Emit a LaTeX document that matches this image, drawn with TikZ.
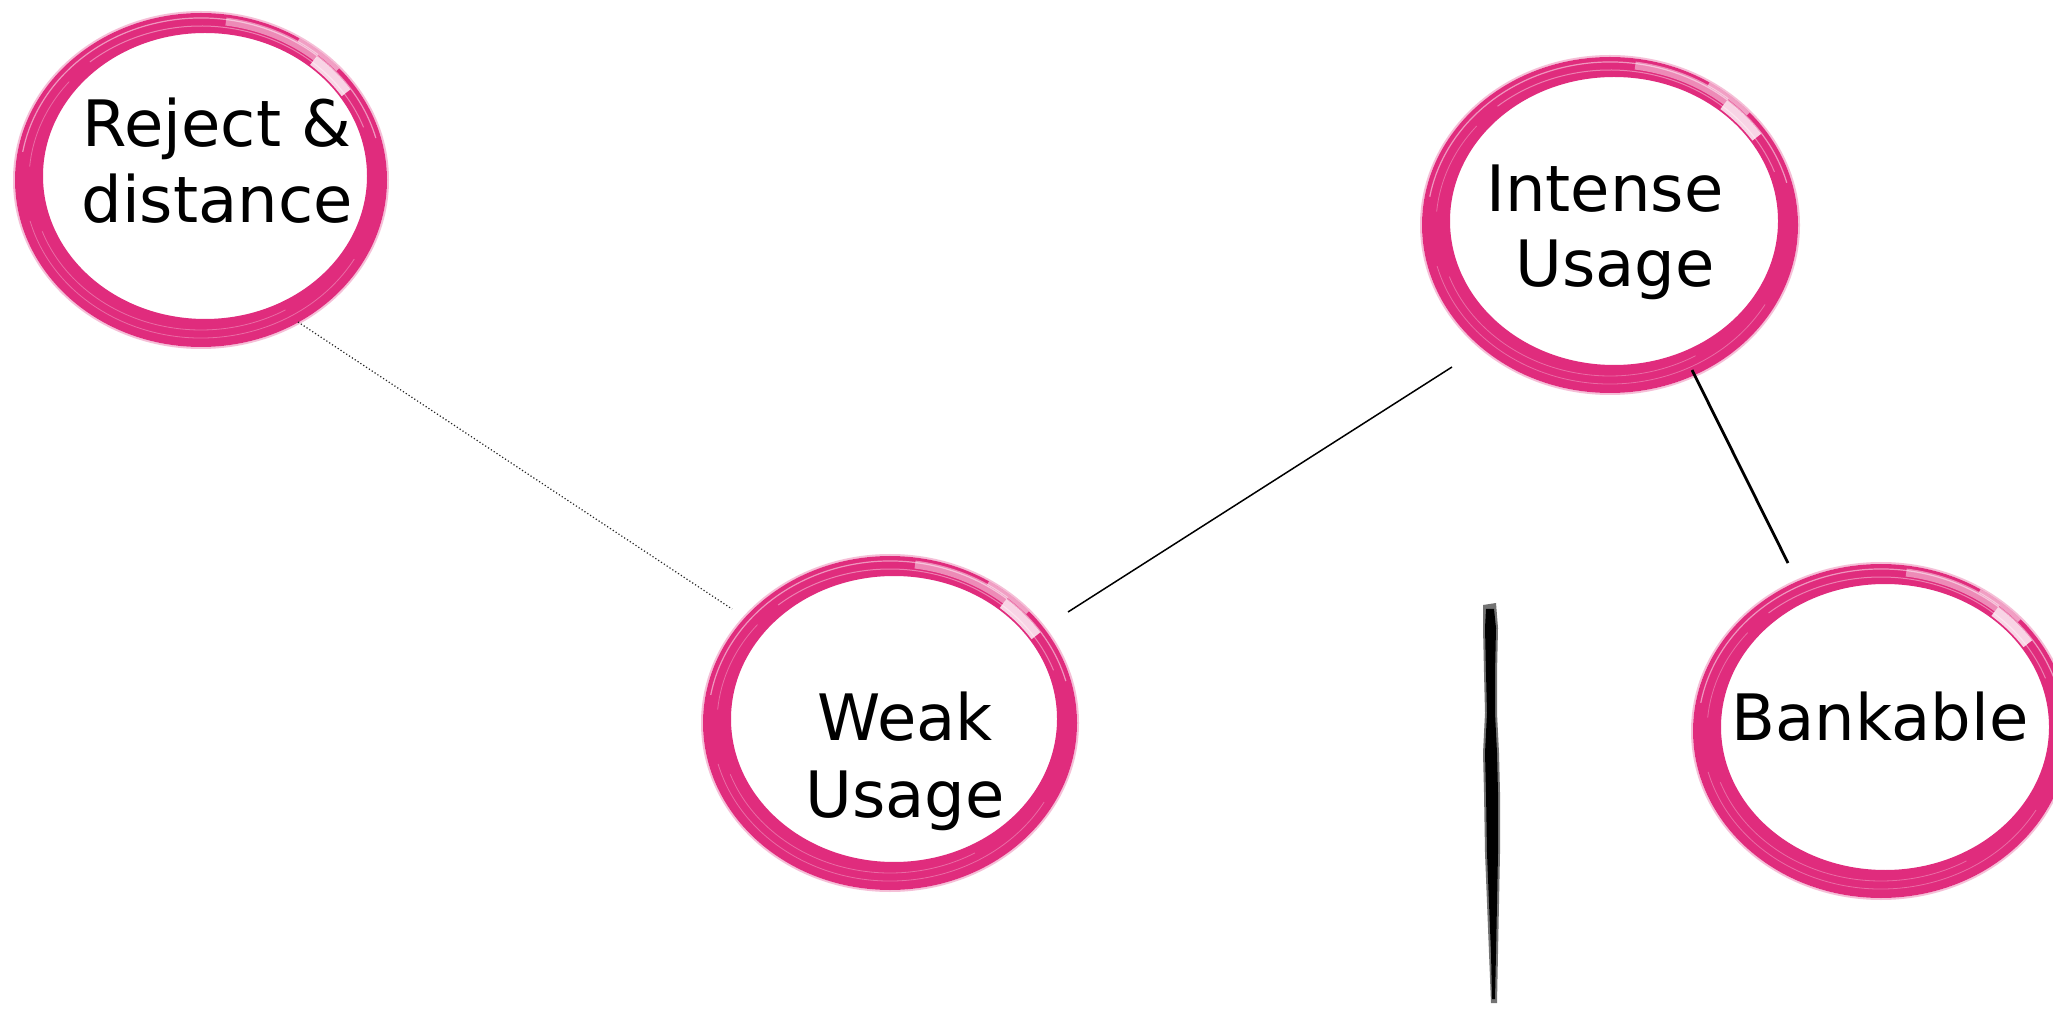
\documentclass[tikz,border=0pt]{standalone}
\usepackage{fontspec}
\setmainfont{DejaVu Sans}
\usetikzlibrary{calc,shapes.geometric}
\definecolor{ringpink}{RGB}{224,44,125}

% one elliptic streak of a brush ring: x radius, y radius, inward offset, start, end, style
\newcommand\brusharc[6]{%
  \draw[#6] ([shift={(#4:{#1-#3} and {#2-#3})}]0,0)
    arc[start angle=#4, end angle=#5, x radius={#1-#3}, y radius={#2-#3}];}

% hand-painted ring round a node: node name, x radius, y radius
\newcommand\brushring[3]{%
  \begin{scope}[shift={(#1.center)}]
    \fill[ringpink,even odd rule]
      (0,0) ellipse [x radius=#2, y radius=#3]
      (4,4) ellipse [x radius={#2-24}, y radius={#3-24}];
    \brusharc{#2}{#3}{-1}{0}{360}{ringpink,opacity=0.3,line width=2pt}
    \brusharc{#2}{#3}{5}{15}{170}{white,opacity=0.5,line width=1.2pt}
    \brusharc{#2}{#3}{13}{20}{130}{white,opacity=0.4,line width=1pt}
    \brusharc{#2}{#3}{9}{195}{330}{white,opacity=0.3,line width=0.8pt}
    \brusharc{#2}{#3}{17}{200}{300}{white,opacity=0.3,line width=0.8pt}
    \brusharc{#2}{#3}{14}{140}{175}{white,opacity=0.3,line width=0.8pt}
    \brusharc{#2}{#3}{7}{50}{82}{white,opacity=0.45,line width=8pt}
    \brusharc{#2}{#3}{11}{34}{50}{white,opacity=0.8,line width=11pt}
    \brusharc{#2}{#3}{2}{42}{58}{white,opacity=0.55,line width=4pt}
  \end{scope}}

\tikzset{
  spot/.style={ellipse, inner sep=0pt, minimum width=376pt, minimum height=334pt},
  lbl/.style={anchor=base, inner sep=0pt, font=\fontsize{64}{76}\selectfont},
  dotconn/.style={line width=1.2pt, black!85, dash pattern=on 1.2pt off 2.2pt},
  thinconn/.style={line width=1.5pt, black},
  thickconn/.style={line width=2.8pt, black},
}

\begin{document}
\begin{tikzpicture}[x=1pt,y=1pt]
  \clip (0,0) rectangle (2053,1013);
  \fill[white] (0,0) rectangle (2053,1013);

  % stages
  \node[spot] (reject)  at (201,833)  {};
  \node[spot] (intense) at (1610,788) {};
  \node[spot] (weak)    at (890,290)  {};
  \node[spot] (bank)    at (1881,282) {};

  \brushring{reject}{186}{167}
  \brushring{intense}{188}{168}
  \brushring{weak}{187}{167}
  \brushring{bank}{188}{167}

  % labels
  \node[lbl] (reject-a)  at (217,866)  {Reject \&};
  \node[lbl] (reject-b)  at (217,790)  {distance};
  \node[lbl] (intense-a) at (1605,801) {Intense};
  \node[lbl] (intense-b) at (1615,726) {Usage};
  \node[lbl] (weak-a)    at (905,273)  {Weak};
  \node[lbl] (weak-b)    at (905,196)  {Usage};
  \node[lbl] (bank-a)    at (1880,273) {Bankable};

  % connectors
  \draw[dotconn]   ($(reject.center)+(97,-142)$)   -- ($(weak.center)+(-158,114)$);
  \draw[thinconn]  ($(weak.center)+(178,111)$)     -- ($(intense.center)+(-158,-142)$);
  \draw[thickconn] ($(intense.center)+(82,-145)$)  -- ($(bank.center)+(-93,168)$);

  % vertical brush stroke
  \fill[black!55]
    (1483,408) -- (1483,385) -- (1484,340) -- (1485,300) -- (1483,260) -- (1484,220)
    -- (1485,160) -- (1487,110) -- (1489,60) -- (1491,10)
    -- (1497,10) -- (1498,60) -- (1499,110) -- (1500,160) -- (1500,220) -- (1499,260)
    -- (1497,300) -- (1497,340) -- (1498,385) -- (1496,410) -- cycle;
  \fill[black]
    (1486,404) -- (1485,385) -- (1486,340) -- (1487,300) -- (1485,260) -- (1486,220)
    -- (1487,160) -- (1489,110) -- (1491,60) -- (1492,14)
    -- (1495,14) -- (1496,60) -- (1497,110) -- (1498,160) -- (1498,220) -- (1497,260)
    -- (1495,300) -- (1495,340) -- (1496,385) -- (1494,404) -- cycle;
\end{tikzpicture}
\end{document}
